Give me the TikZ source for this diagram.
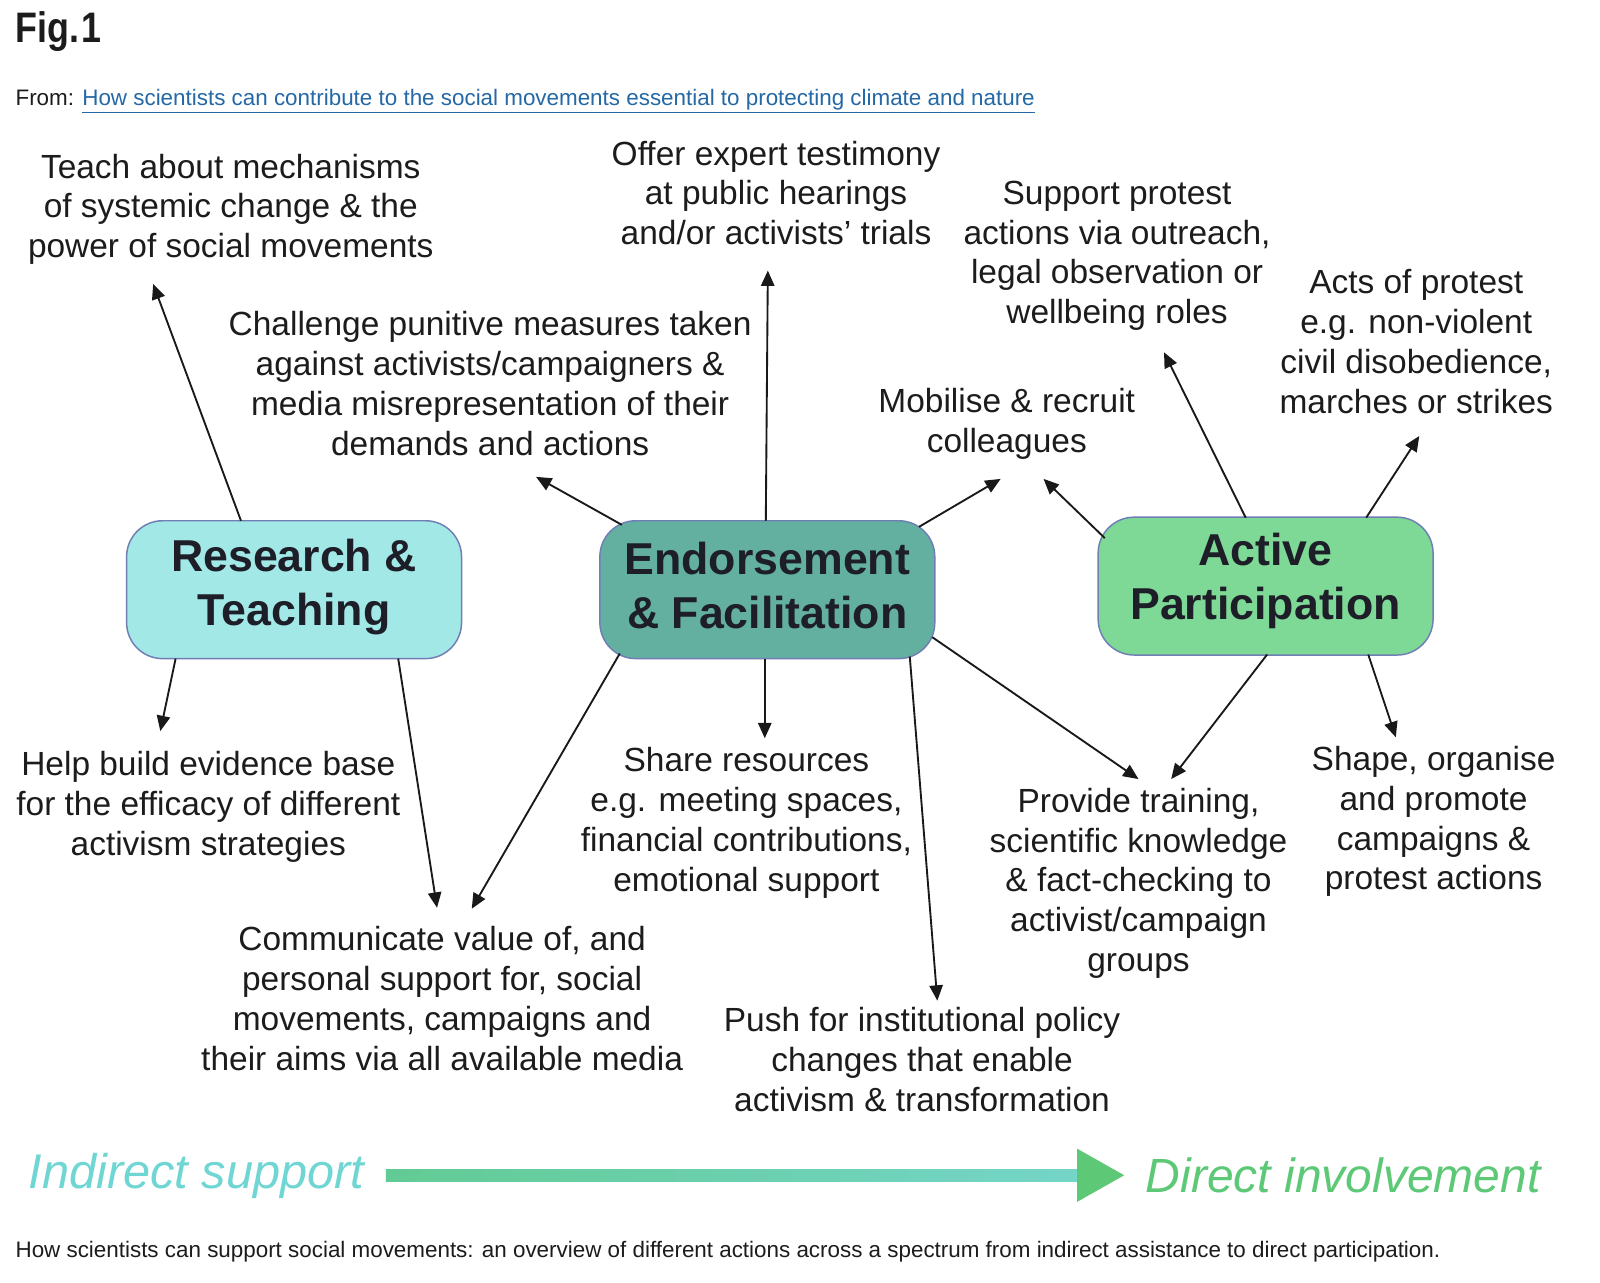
\documentclass[tikz,border=0pt]{standalone}
\usepackage{fontspec}
\setmainfont{Liberation Sans}
\newfontfamily\hdrfont[FakeStretch=0.84]{Liberation Sans}
\usetikzlibrary{arrows.meta}
\definecolor{txt}{HTML}{1C1C1C}
\definecolor{boxtxt}{HTML}{1E1E28}
\definecolor{rtfill}{HTML}{A2E8E7}
\definecolor{effill}{HTML}{63B0A1}
\definecolor{apfill}{HTML}{7ED896}
\definecolor{boxline}{HTML}{6F7FB4}
\definecolor{linkblue}{HTML}{2468A6}
\definecolor{indcol}{HTML}{6FD6D4}
\definecolor{dircol}{HTML}{5DC876}
\definecolor{shaftL}{HTML}{62CB94}
\definecolor{shaftR}{HTML}{74D5C8}
\begin{document}
\begin{tikzpicture}[x=0.7658pt,y=-0.7658pt,
  box/.style={draw=boxline, line width=1.1pt, rounded corners=27pt,
    minimum width=251.2pt, minimum height=103.4pt, inner sep=0pt},
  title/.style={align=center, text=boxtxt, inner sep=0pt,
    font=\fontsize{33.5}{40.5}\selectfont\bfseries},
  lab/.style={align=center, text=txt, inner sep=0pt,
    font=\fontsize{25.1}{29.9}\selectfont},
  arr/.style={draw=black!90, line width=1.4pt,
    -{Triangle[length=11.5pt,width=10pt]}},
]
\useasboundingbox (0,0) rectangle (1567,1255.6);
\fill[white] (0,0) rectangle (1567,1255.6);

% header
\node[anchor=base west, inner sep=0pt, text=txt, font=\hdrfont\fontsize{32}{36}\selectfont\bfseries] (fig) at (15,42) {Fig.\kern2pt1};
\node[anchor=base west, inner sep=0pt, text=txt, font=\fontsize{16.8}{19}\selectfont] (from) at (15,103.5)
  {From: \textcolor{linkblue}{\underline{How scientists can contribute to the social movements essential to protecting climate and nature}}};

% boxes
\node[box, fill=rtfill] (rt) at (288,577.5) {};
\node[box, fill=effill] (ef) at (751.5,577.5) {};
\node[box, fill=apfill] (ap) at (1239.5,574) {};
\node[title] (rtT) at (288,575) {Research \&\\Teaching};
\node[title] (efT) at (751.5,573.5) {Endorsement\\\& Facilitation};
\node[title] (apT) at (1239.5,569) {Active\\Participation};

% labels
\node[lab] (teach) at (226,205) {Teach about mechanisms\\of systemic change \& the\\power of social movements};
\node[lab] (offer) at (760,189) {Offer expert testimony\\at public hearings\\and/or activists’ trials};
\node[lab] (support) at (1094,250.5) {Support protest\\actions via outreach,\\legal observation or\\wellbeing roles};
\node[lab] (acts) at (1387,334.5) {Acts of protest\\e.g. non-violent\\civil disobedience,\\marches or strikes};
\node[lab] (chall) at (480,375.5) {Challenge punitive measures taken\\against activists/campaigners \&\\media misrepresentation of their\\demands and actions};
\node[lab] (mob) at (986,415.5) {Mobilise \& recruit\\colleagues};
\node[lab] (help) at (204,790) {Help build evidence base\\for the efficacy of different\\activism strategies};
\node[lab] (share) at (731,806) {Share resources\\e.g. meeting spaces,\\financial contributions,\\emotional support};
\node[lab] (prov) at (1115,865) {Provide training,\\scientific knowledge\\\& fact-checking to\\activist/campaign\\groups};
\node[lab] (shape) at (1404,804.5) {Shape, organise\\and promote\\campaigns \&\\protest actions};
\node[lab] (comm) at (433,978) {Communicate value of, and\\personal support for, social\\movements, campaigns and\\their aims via all available media};
\node[lab] (push) at (903,1038) {Push for institutional policy\\changes that enable\\activism \& transformation};

% connector end points
\coordinate (rtA) at (236,510);  \coordinate (teachT) at (150,278);
\coordinate (rtB) at (172,645);  \coordinate (helpT) at (157,716);
\coordinate (rtC) at (390,645);  \coordinate (commT1) at (428,889);
\coordinate (efA) at (609,514);  \coordinate (challT) at (525,467);
\coordinate (efB) at (750,510);  \coordinate (offerT) at (752,265);
\coordinate (efC) at (900,516);  \coordinate (mobT1) at (980,469);
\coordinate (efD) at (749,645);  \coordinate (shareT) at (749,723);
\coordinate (efE) at (607,640);  \coordinate (commT2) at (462,890);
\coordinate (efF) at (891,643);  \coordinate (pushT) at (918,980);
\coordinate (efG) at (913,624);  \coordinate (provT1) at (1115,763);
\coordinate (apA) at (1082,527); \coordinate (mobT2) at (1022,469);
\coordinate (apB) at (1220,507); \coordinate (supT) at (1140,345);
\coordinate (apC) at (1338,507); \coordinate (actsT) at (1390,427);
\coordinate (apD) at (1241,641); \coordinate (provT2) at (1147,763);
\coordinate (apE) at (1340,641); \coordinate (shapeT) at (1367,722);

\draw[arr] (rtA) -- (teachT);
\draw[arr] (rtB) -- (helpT);
\draw[arr] (rtC) -- (commT1);
\draw[arr] (efA) -- (challT);
\draw[arr] (efB) -- (offerT);
\draw[arr] (efC) -- (mobT1);
\draw[arr] (efD) -- (shareT);
\draw[arr] (efE) -- (commT2);
\draw[arr] (efF) -- (pushT);
\draw[arr] (efG) -- (provT1);
\draw[arr] (apA) -- (mobT2);
\draw[arr] (apB) -- (supT);
\draw[arr] (apC) -- (actsT);
\draw[arr] (apD) -- (provT2);
\draw[arr] (apE) -- (shapeT);

% spectrum arrow
\node[anchor=west, inner sep=0pt, text=indcol, font=\fontsize{36.5}{40}\selectfont\itshape] (ind) at (28,1152) {Indirect support};
\node[anchor=west, inner sep=0pt, text=dircol, font=\fontsize{36}{40}\selectfont\itshape] (dir) at (1122,1151) {Direct involvement};
\shade[left color=shaftL, right color=shaftR] (378,1145) rectangle (1058,1157);
\fill[dircol] (1055,1125) -- (1101,1151) -- (1055,1177) -- cycle;

% caption
\node[anchor=base west, inner sep=0pt, text=txt, font=\fontsize{16.8}{19}\selectfont] (cap) at (15,1232)
  {How scientists can support social movements: an overview of different actions across a spectrum from indirect assistance to direct participation.};
\end{tikzpicture}
\end{document}
